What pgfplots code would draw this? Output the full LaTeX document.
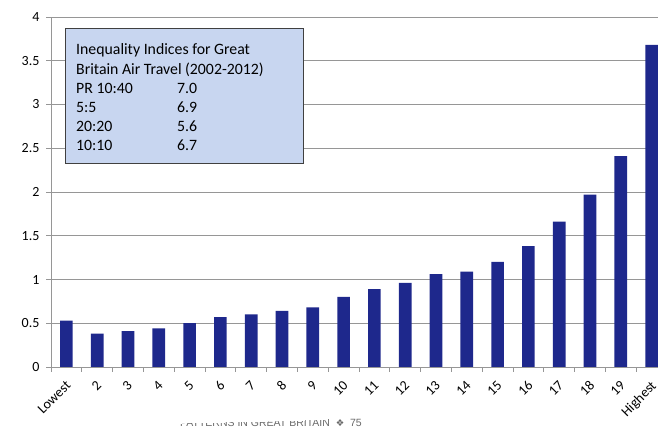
\documentclass[border=0pt]{standalone}
\usepackage{pgfplots}
\usepackage{pgfplotstable}
\pgfplotsset{compat=1.18}
\usepackage{fontspec}
\setmainfont{Carlito}
\newfontfamily\footfont{Liberation Sans}
\newfontfamily\symfont{DejaVu Sans}

\definecolor{barblue}{RGB}{30,40,140}
\definecolor{boxblue}{RGB}{200,214,240}
\definecolor{gridgray}{RGB}{150,150,150}
\definecolor{footgray}{RGB}{105,105,105}

% Ratio of air travel by household income group (lowest to highest)
\pgfplotstableread{
idx val
0  0.53
1  0.38
2  0.41
3  0.44
4  0.50
5  0.57
6  0.60
7  0.64
8  0.68
9  0.80
10 0.89
11 0.96
12 1.06
13 1.09
14 1.20
15 1.38
16 1.66
17 1.97
18 2.41
19 3.68
}\groups

\begin{document}
\begin{tikzpicture}[x=1pt,y=1pt]
\clip (0,0) rectangle (658,433);
\begin{axis}[
  at={(51pt,66pt)}, anchor=south west,
  width=616pt, height=350pt, scale only axis,
  xmin=-0.5, xmax=19.5, ymin=0, ymax=4,
  axis x line*=bottom, axis y line*=left,
  axis line style={gridgray, line width=0.8pt},
  ytick={0,0.5,...,4},
  ymajorgrids,
  grid style={gridgray, line width=0.8pt},
  tick style={gridgray, line width=0.8pt},
  tick align=outside,
  major tick length=5pt,
  % ticks sit on category boundaries, names at category centres
  xtick={-0.5,0.5,...,19.5},
  xticklabels={},
  extra x ticks={0,...,19},
  extra x tick labels={Lowest,2,3,4,5,6,7,8,9,10,11,12,13,14,15,16,17,18,19,Highest},
  extra x tick style={major tick length=0pt, grid=none},
  tick label style={font=\fontsize{14}{16}\selectfont, text=black},
  /pgf/number format/assume math mode=true,
  yticklabel style={/pgf/number format/fixed, xshift=-3pt},
  xticklabel style={rotate=45, anchor=north east, inner sep=1pt, yshift=-7pt, xshift=-9pt},
]
\addplot[ybar, bar width=0.41, fill=barblue, draw=none] table[x=idx, y=val] {\groups};
\end{axis}

% Summary box of inequality indices
\draw[fill=boxblue, draw=black!75, line width=1pt] (65,269) rectangle (303,404);
\begin{scope}[every node/.style={anchor=base west, inner sep=0pt, font=\fontsize{15.8}{18}\selectfont}]
\node at (76,378) {Inequality Indices for Great};
\node at (76,358.8) {Britain Air Travel (2002-2012)};
\node at (76,339.6) {PR 10:40};  \node at (177,339.6) {7.0};
\node at (76,320.4) {5:5};       \node at (177,320.4) {6.9};
\node at (76,301.2) {20:20};     \node at (177,301.2) {5.6};
\node at (76,282)   {10:10};     \node at (177,282)   {6.7};
\end{scope}

% Running page header
\begin{scope}
\clip (150,0) -- (150,9) -- (300,12.5) -- (340,14.5) -- (400,16) -- (400,0) -- cycle;
\node[anchor=base east, inner sep=0pt, text=footgray, font=\footfont\fontsize{10.5}{12}\selectfont]
  at (362,6.3) {PATTERNS IN GREAT BRITAIN \ {\symfont\fontsize{9.5}{12}\selectfont ❖}\ \ 75};
\end{scope}
\end{tikzpicture}
\end{document}
